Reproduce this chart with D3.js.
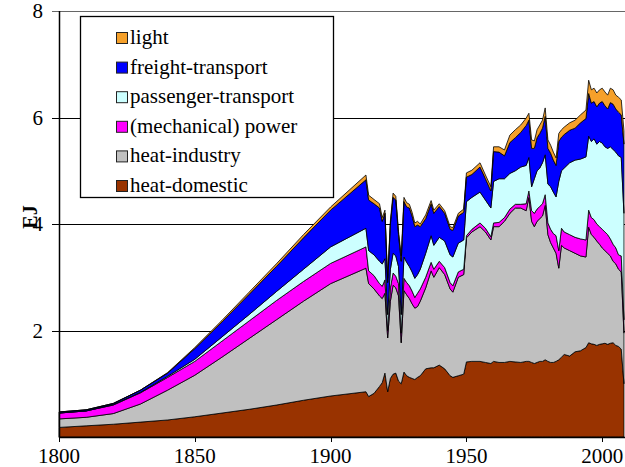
<!DOCTYPE html>
<html>
<head>
<meta charset="utf-8">
<script src="https://cdn.jsdelivr.net/npm/d3@7"></script>
<style>
  body { margin: 0; background: #ffffff; }
</style>
</head>
<body>
<div id="chart"></div>
<script>
console.log("linked");

// years (irregular spacing, dense where the series move a lot)
const YEARS = [
  1800, 1810, 1820, 1830, 1840, 1850, 1860, 1870, 1880, 1890, 1900, 1913,
  1914, 1916, 1918, 1919, 1920, 1921, 1922, 1923, 1924, 1925, 1926, 1927, 1928, 1929, 1930, 1931, 1932, 1933, 1935, 1937, 1938, 1940, 1942, 1944, 1945, 1947, 1949,
  1950, 1952, 1955, 1957, 1959, 1960, 1962, 1964, 1966, 1968, 1970, 1972, 1973, 1974, 1975, 1976, 1977, 1978, 1979,
  1980, 1981, 1982, 1983, 1984, 1985, 1986, 1988, 1990, 1992, 1994, 1995, 1996, 1997, 1998, 1999, 2000, 2001, 2002, 2003, 2004, 2005, 2006, 2007, 2008
];

const HEAT_DOMESTIC = [
  0.18, 0.21, 0.24, 0.28, 0.32, 0.38, 0.45, 0.52, 0.60, 0.69, 0.77, 0.85,
  0.76, 0.82, 0.95, 1.02, 1.20, 0.85, 1.10, 1.18, 1.20, 1.05, 1.00, 1.22, 1.15, 1.12, 1.10, 1.08, 1.12, 1.15, 1.28, 1.30, 1.30, 1.35, 1.28, 1.15, 1.12, 1.15, 1.18,
  1.41, 1.42, 1.42, 1.40, 1.38, 1.42, 1.40, 1.40, 1.42, 1.41, 1.40, 1.42, 1.42, 1.40, 1.38, 1.40, 1.42, 1.42, 1.45,
  1.42, 1.40, 1.40, 1.42, 1.45, 1.50, 1.55, 1.52, 1.60, 1.62, 1.68, 1.77, 1.75, 1.74, 1.72, 1.74, 1.75, 1.76, 1.74, 1.76, 1.77, 1.72, 1.70, 1.65, 1.00
];

const HEAT_INDUSTRY = [
  0.16, 0.16, 0.20, 0.34, 0.56, 0.78, 1.05, 1.33, 1.60, 1.86, 2.11, 2.32,
  2.12, 1.96, 1.70, 1.58, 1.50, 1.01, 1.45, 1.67, 1.60, 1.60, 0.77, 1.53, 1.52, 1.48, 1.40, 1.34, 1.33, 1.40, 1.52, 1.82, 1.70, 1.83, 1.77, 1.63, 1.60, 1.85, 1.87,
  2.33, 2.43, 2.53, 2.45, 2.32, 2.53, 2.55, 2.65, 2.78, 2.89, 2.90, 2.83, 3.08, 2.65, 2.57, 2.65, 2.68, 2.73, 2.90,
  2.38, 2.25, 2.15, 2.03, 1.72, 2.10, 2.00, 1.98, 1.85, 1.78, 1.70, 2.17, 2.05, 2.01, 1.96, 1.88, 1.80, 1.74, 1.71, 1.64, 1.53, 1.53, 1.45, 1.45, 0.95
];

const POWER = [
  0.11, 0.12, 0.16, 0.21, 0.24, 0.26, 0.30, 0.33, 0.36, 0.37, 0.38, 0.40,
  0.24, 0.25, 0.23, 0.23, 0.25, 0.14, 0.25, 0.23, 0.22, 0.23, 0.18, 0.23, 0.23, 0.24, 0.24, 0.20, 0.25, 0.23, 0.20, 0.16, 0.15, 0.12, 0.13, 0.12, 0.12, 0.10, 0.10,
  0.04, 0.05, 0.07, 0.07, 0.06, 0.07, 0.08, 0.07, 0.08, 0.07, 0.07, 0.13, 0.12, 0.20, 0.25, 0.23, 0.23, 0.23, 0.20,
  0.22, 0.25, 0.27, 0.33, 0.33, 0.32, 0.30, 0.30, 0.30, 0.32, 0.32, 0.32, 0.32, 0.33, 0.32, 0.33, 0.35, 0.35, 0.35, 0.32, 0.32, 0.30, 0.27, 0.30, 0.25
];

const PASSENGER = [
  0.00, 0.00, 0.01, 0.01, 0.02, 0.04, 0.08, 0.12, 0.17, 0.23, 0.31, 0.35,
  0.38, 0.39, 0.42, 0.42, 0.40, 0.30, 0.35, 0.37, 0.38, 0.32, 0.35, 0.40, 0.38, 0.36, 0.36, 0.36, 0.35, 0.37, 0.45, 0.50, 0.45, 0.45, 0.50, 0.52, 0.54, 0.54, 0.55,
  0.64, 0.60, 0.58, 0.53, 0.54, 0.78, 0.82, 0.73, 0.67, 0.63, 0.70, 0.72, 0.63, 0.45, 0.65, 0.72, 0.72, 0.77, 0.75,
  0.73, 0.80, 0.78, 0.73, 1.30, 1.08, 1.20, 1.35, 1.45, 1.50, 1.56, 1.39, 1.43, 1.52, 1.50, 1.60, 1.62, 1.60, 1.62, 1.73, 1.78, 1.80, 1.86, 1.85, 2.00
];

const FREIGHT = [
  0.02, 0.02, 0.02, 0.04, 0.06, 0.20, 0.28, 0.38, 0.47, 0.59, 0.69, 0.91,
  0.95, 0.96, 1.00, 0.80, 0.85, 0.60, 0.85, 1.05, 1.05, 0.60, 1.00, 1.04, 1.04, 1.10, 1.05, 0.97, 0.93, 0.80, 0.65, 0.60, 0.60, 0.58, 0.52, 0.48, 0.50, 0.51, 0.52,
  0.46, 0.43, 0.47, 0.40, 0.32, 0.56, 0.50, 0.43, 0.58, 0.62, 0.65, 0.75, 0.70, 0.72, 0.57, 0.62, 0.65, 0.65, 0.72,
  0.67, 0.63, 0.60, 0.59, 0.75, 0.63, 0.63, 0.61, 0.60, 0.68, 0.72, 0.80, 0.72, 0.70, 0.70, 0.72, 0.78, 0.77, 0.74, 0.83, 0.85, 0.81, 0.82, 0.80, 1.30
];

const LIGHT = [
  0.00, 0.00, 0.00, 0.00, 0.01, 0.02, 0.03, 0.04, 0.05, 0.06, 0.06, 0.09,
  0.09, 0.08, 0.08, 0.07, 0.06, 0.08, 0.06, 0.08, 0.07, 0.06, 0.10, 0.08, 0.08, 0.07, 0.07, 0.07, 0.07, 0.05, 0.07, 0.06, 0.06, 0.05, 0.05, 0.05, 0.05, 0.05, 0.06,
  0.08, 0.08, 0.08, 0.07, 0.08, 0.09, 0.10, 0.11, 0.14, 0.15, 0.14, 0.14, 0.13, 0.16, 0.14, 0.15, 0.16, 0.15, 0.16,
  0.16, 0.15, 0.15, 0.14, 0.15, 0.14, 0.14, 0.14, 0.15, 0.15, 0.16, 0.25, 0.25, 0.25, 0.26, 0.25, 0.25, 0.26, 0.26, 0.27, 0.27, 0.26, 0.28, 0.28, 0.25
];

// bottom to top of the stack
const SERIES_KEYS = ["heat-domestic", "heat-industry", "(mechanical) power", "passenger-transport", "freight-transport", "light"];
const SERIES_VALUES = [HEAT_DOMESTIC, HEAT_INDUSTRY, POWER, PASSENGER, FREIGHT, LIGHT];
const SERIES_COLORS = ["#993300", "#c0c0c0", "#ff00ff", "#ccffff", "#0000ff", "#f5a02a"];

const Y_TICKS = [2, 4, 6, 8];
const X_TICKS = [1800, 1850, 1900, 1950, 2000];

const FONT = "'Liberation Serif', 'DejaVu Serif', 'Times New Roman', serif";

const FRAME_WIDTH = 625;
const FRAME_HEIGHT = 467;
const PLOT = {left: 59, right: 625, top: 11, bottom: 437};

const FRAME = d3.select("#chart")
                .append("svg")
                  .attr("width", FRAME_WIDTH)
                  .attr("height", FRAME_HEIGHT)
                  .attr("font-family", FONT)
                  .style("display", "block");

FRAME.append("rect")
       .attr("width", FRAME_WIDTH)
       .attr("height", FRAME_HEIGHT)
       .attr("fill", "#ffffff");

const X_SCALE = d3.scaleLinear()
                  .domain([1800, 2010])
                  .range([PLOT.left, 629.4]);

const Y_SCALE = d3.scaleLinear()
                  .domain([0, 8])
                  .range([PLOT.bottom, PLOT.top]);

// rows for d3.stack
const ROWS = YEARS.map((year, i) => {
  const row = {year: year};
  SERIES_KEYS.forEach((k, j) => { row[k] = SERIES_VALUES[j][i]; });
  return row;
});

const STACKED = d3.stack().keys(SERIES_KEYS)(ROWS);

// gridlines (behind the areas)
FRAME.selectAll(".grid")
     .data(Y_TICKS)
     .enter()
     .append("line")
       .attr("class", "grid")
       .attr("x1", PLOT.left - 7)
       .attr("x2", PLOT.right)
       .attr("y1", (d) => Math.round(Y_SCALE(d)) + 0.5)
       .attr("y2", (d) => Math.round(Y_SCALE(d)) + 0.5)
       .attr("stroke", (d) => d == 8 ? "#666" : "#000")
       .attr("stroke-width", 1.2);

const AREA = d3.area()
               .x((d) => X_SCALE(d.data.year))
               .y0((d) => Y_SCALE(d[0]))
               .y1((d) => Y_SCALE(d[1]));

FRAME.selectAll(".layer")
     .data(STACKED)
     .enter()
     .append("path")
       .attr("class", "layer")
       .attr("d", AREA)
       .attr("fill", (d, i) => SERIES_COLORS[i])
       .attr("stroke", "#000")
       .attr("stroke-width", 0.8)
       .attr("stroke-linejoin", "round");

// axes
FRAME.append("line")
       .attr("x1", PLOT.left + 0.5).attr("x2", PLOT.left + 0.5)
       .attr("y1", Math.round(Y_SCALE(8))).attr("y2", PLOT.bottom + 1)
       .attr("stroke", "#000").attr("stroke-width", 1.5);

FRAME.append("line")
       .attr("x1", PLOT.left).attr("x2", PLOT.right)
       .attr("y1", PLOT.bottom + 0.5).attr("y2", PLOT.bottom + 0.5)
       .attr("stroke", "#000").attr("stroke-width", 1.5);

FRAME.selectAll(".xtick")
     .data(X_TICKS)
     .enter()
     .append("line")
       .attr("class", "xtick")
       .attr("x1", (d) => Math.round(X_SCALE(d)) + 0.5)
       .attr("x2", (d) => Math.round(X_SCALE(d)) + 0.5)
       .attr("y1", PLOT.bottom)
       .attr("y2", PLOT.bottom + 5)
       .attr("stroke", "#000");

FRAME.selectAll(".xlabel")
     .data(X_TICKS)
     .enter()
     .append("text")
       .attr("class", "xlabel")
       .attr("x", (d) => X_SCALE(d))
       .attr("y", 463)
       .attr("text-anchor", "middle")
       .attr("font-family", FONT)
       .attr("font-size", "21px")
       .text((d) => d);

FRAME.selectAll(".ylabel")
     .data(Y_TICKS)
     .enter()
     .append("text")
       .attr("class", "ylabel")
       .attr("x", 43)
       .attr("y", (d) => Y_SCALE(d) + 7)
       .attr("text-anchor", "end")
       .attr("font-family", FONT)
       .attr("font-size", "21px")
       .text((d) => d);

FRAME.append("text")
       .attr("transform", "translate(37,217) rotate(-90)")
       .attr("text-anchor", "middle")
       .attr("font-family", FONT)
       .attr("font-size", "20px")
       .attr("font-weight", "bold")
       .text("EJ");

// legend, top of stack first
const LEGEND = FRAME.append("g");

LEGEND.append("rect")
        .attr("x", 80.5)
        .attr("y", 16.5)
        .attr("width", 253)
        .attr("height", 181)
        .attr("fill", "#fff")
        .attr("stroke", "#000")
        .attr("stroke-width", 1.3);

const LEGEND_ITEMS = SERIES_KEYS.map((k, i) => ({name: k, color: SERIES_COLORS[i]})).reverse();

LEGEND.selectAll(".swatch")
      .data(LEGEND_ITEMS)
      .enter()
      .append("rect")
        .attr("class", "swatch")
        .attr("x", 116.5)
        .attr("y", (d, i) => 32.5 + i * 29.6)
        .attr("width", 11)
        .attr("height", 11)
        .attr("fill", (d) => d.color)
        .attr("stroke", "#222")
        .attr("stroke-width", 1);

LEGEND.selectAll(".ltext")
      .data(LEGEND_ITEMS)
      .enter()
      .append("text")
        .attr("class", "ltext")
        .attr("x", 130)
        .attr("y", (d, i) => 44 + i * 29.6)
        .attr("font-family", FONT)
        .attr("font-size", "21px")
        .text((d) => d.name);
</script>
</body>
</html>
